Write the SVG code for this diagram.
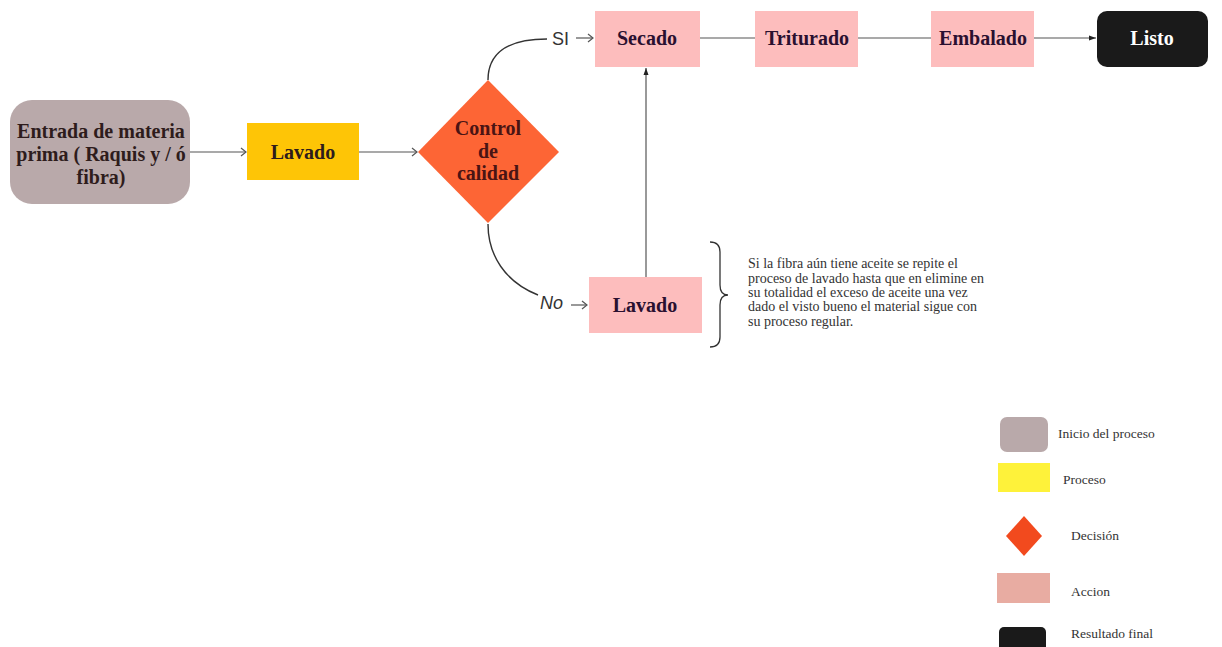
<svg xmlns="http://www.w3.org/2000/svg" width="1222" height="647" viewBox="0 0 1222 647">
<style>
.bt{font-family:"Liberation Serif","Times New Roman",serif;font-weight:bold;font-size:20px;text-anchor:middle;}
.lg{font-family:"Liberation Serif","Times New Roman",serif;font-size:13.5px;fill:#333;}
.nt{font-family:"Liberation Serif","Times New Roman",serif;font-size:14px;fill:#333;}
.ln{fill:none;stroke:#555;stroke-width:1.2;}
.cv{fill:none;stroke:#333;stroke-width:1.4;}
.lbl{font-family:"Liberation Sans",Arial,sans-serif;font-size:18px;fill:#333;}
</style>
<defs>
<marker id="open" markerWidth="10" markerHeight="10" refX="8" refY="5" orient="auto" markerUnits="userSpaceOnUse">
<path d="M3,1 L8,5 L3,9" fill="none" stroke="#555" stroke-width="1.2"/>
</marker>
<marker id="fill" markerWidth="8" markerHeight="8" refX="7" refY="4" orient="auto" markerUnits="userSpaceOnUse">
<path d="M0,1.5 L7,4 L0,6.5 Z" fill="#222"/>
</marker>
</defs>
<rect width="1222" height="647" fill="#ffffff"/>

<g id="connectors">
<path class="ln" d="M190,152 H246" marker-end="url(#open)"/>
<path class="ln" d="M359,152 H417" marker-end="url(#open)"/>
<path class="cv" d="M488,80 C488,55 505,39 547,39"/>
<path class="ln" d="M576,38 H593" marker-end="url(#open)"/>
<path class="cv" d="M488,224 C488,255 505,282 538,295"/>
<path class="ln" d="M571,305 H587" marker-end="url(#open)"/>
<path class="ln" d="M646,277 V68" marker-end="url(#fill)" stroke-width="1"/>
<path class="ln" d="M700,38 H755"/>
<path class="ln" d="M858,38 H931"/>
<path class="ln" d="M1034,38 H1096" marker-end="url(#fill)"/>
<text class="lbl" x="552" y="45">SI</text>
<text class="lbl" x="540" y="309" font-style="italic">No</text>
</g>

<g id="inicio">
<rect x="10" y="100" width="180" height="104" rx="22" fill="#b9a9aa"/>
<text class="bt" fill="#2e1c1c"><tspan x="101" y="138">Entrada de materia</tspan><tspan x="101" y="161">prima ( Raquis y / ó</tspan><tspan x="101" y="184">fibra)</tspan></text>
</g>

<g id="lavado1">
<rect x="247" y="123" width="112" height="57" fill="#fec506"/>
<text class="bt" x="303" y="159" fill="#2e1c1c">Lavado</text>
</g>

<g id="control">
<polygon points="488,80 559,152 488,223 418,152" fill="#fd6535"/>
<text class="bt" fill="#4a1414"><tspan x="488" y="135">Control</tspan><tspan x="488" y="158">de</tspan><tspan x="488" y="180">calidad</tspan></text>
</g>

<g id="secado">
<rect x="595" y="11" width="105" height="56" fill="#fdbdbd"/>
<text class="bt" x="647" y="45" fill="#2a1030">Secado</text>
</g>

<g id="triturado">
<rect x="755" y="11" width="103" height="56" fill="#fdbdbd"/>
<text class="bt" x="807" y="45" fill="#2a1030">Triturado</text>
</g>

<g id="embalado">
<rect x="931" y="11" width="103" height="56" fill="#fdbdbd"/>
<text class="bt" x="983" y="45" fill="#2a1030">Embalado</text>
</g>

<g id="listo">
<rect x="1097" y="11" width="111" height="56" rx="10" fill="#1a1a1a"/>
<text class="bt" x="1152" y="45" fill="#ffffff">Listo</text>
</g>

<g id="lavado2">
<rect x="589" y="277" width="113" height="56" fill="#fdbdbd"/>
<text class="bt" x="645" y="312" fill="#2a1030">Lavado</text>
</g>

<g id="nota">
<path d="M710,242 Q720,242 720,252 L720,285 Q720,295 728,295 Q720,295 720,305 L720,337 Q720,347 710,347" fill="none" stroke="#333" stroke-width="1.3"/>
<text class="nt"><tspan x="748" y="268">Si la fibra aún tiene aceite se repite el</tspan><tspan x="748" y="283">proceso de lavado hasta que en elimine en</tspan><tspan x="748" y="297">su totalidad el exceso de aceite una vez</tspan><tspan x="748" y="311">dado el visto bueno el material sigue con</tspan><tspan x="748" y="326">su proceso regular.</tspan></text>
</g>

<g id="legend">
<rect x="1000" y="417" width="48" height="35" rx="7" fill="#b9a9aa"/>
<text class="lg" x="1058" y="438">Inicio del proceso</text>
<rect x="998" y="463" width="52" height="29" fill="#fef23a"/>
<text class="lg" x="1063" y="484">Proceso</text>
<polygon points="1024,516 1042,536 1024,556 1006,536" fill="#f24a1e"/>
<text class="lg" x="1071" y="540">Decisión</text>
<rect x="997" y="573" width="53" height="30" fill="#e8aca2"/>
<text class="lg" x="1071" y="596">Accion</text>
<rect x="999" y="627" width="47" height="30" rx="5" fill="#1a1a1a"/>
<text class="lg" x="1071" y="638">Resultado final</text>
</g>
</svg>
